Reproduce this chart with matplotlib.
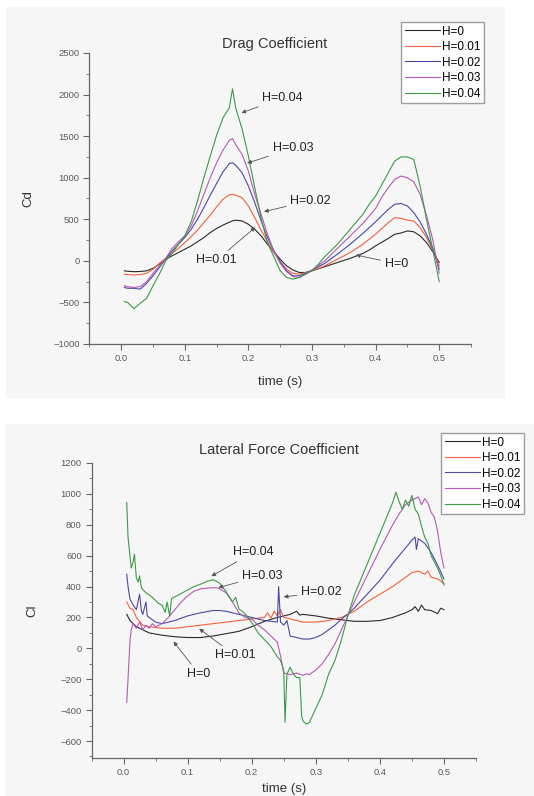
import matplotlib
matplotlib.use("Agg")
import matplotlib.pyplot as plt
from matplotlib.patches import Rectangle
from matplotlib.ticker import MultipleLocator

plt.rcParams['font.family'] = ['Liberation Sans', 'DejaVu Sans']

labels = ['H=0', 'H=0.01', 'H=0.02', 'H=0.03', 'H=0.04']
colors = ['#2a2a2a', '#f2603c', '#4a4aa6', '#b65ab8', '#3c9a46']

# ---- drag coefficient (top) ----
cd_t = [0.005, 0.01, 0.02, 0.03, 0.04, 0.05, 0.06, 0.07, 0.08, 0.09, 0.10, 0.11, 0.12,
        0.13, 0.14, 0.15, 0.16, 0.17, 0.175, 0.18, 0.19, 0.20, 0.21, 0.22, 0.23, 0.24,
        0.25, 0.26, 0.27, 0.28, 0.29, 0.30, 0.31, 0.32, 0.33, 0.34, 0.35, 0.36, 0.37,
        0.38, 0.39, 0.40, 0.41, 0.42, 0.43, 0.44, 0.45, 0.46, 0.47, 0.48, 0.49, 0.50]
cd_h0 = [-120, -125, -130, -128, -120, -90, -40, 20, 60, 100, 140, 180, 230, 280, 340, 390,
         430, 465, 480, 490, 480, 440, 380, 300, 200, 110, 20, -60, -110, -140, -140, -120,
         -95, -70, -45, -20, 5, 30, 60, 90, 130, 180, 225, 270, 320, 335, 360, 350, 300,
         220, 110, -20]
cd_h1 = [-160, -165, -170, -165, -150, -100, -30, 30, 90, 150, 220, 290, 370, 460, 550, 650,
         740, 795, 800, 790, 760, 660, 520, 370, 230, 100, -10, -100, -150, -160, -140, -120,
         -90, -60, -20, 20, 60, 100, 150, 200, 260, 320, 390, 460, 520, 510, 490, 480, 400,
         280, 130, -60]
cd_h2 = [-320, -330, -330, -340, -270, -180, -80, 20, 120, 200, 280, 380, 500, 640, 790, 930,
         1070, 1170, 1180, 1150, 1060, 900, 700, 480, 280, 120, -10, -120, -180, -180, -150,
         -110, -70, -30, 25, 80, 140, 200, 265, 330, 400, 470, 545, 620, 680, 690, 660, 580,
         470, 320, 150, -100]
cd_h3 = [-300, -310, -320, -310, -250, -150, -60, 30, 150, 230, 300, 420, 600, 800, 1000, 1180,
         1330, 1450, 1470, 1400, 1280, 1080, 800, 560, 320, 120, -30, -130, -190, -200, -160,
         -110, -55, 0, 75, 150, 225, 300, 375, 450, 540, 630, 770, 880, 980, 1020, 1000, 950,
         800, 550, 250, -150]
cd_h4 = [-490, -500, -575, -510, -450, -300, -160, 0, 90, 200, 300, 470, 720, 1000, 1260, 1510,
         1720, 1840, 2070, 1840, 1590, 1260, 880, 510, 220, 50, -120, -200, -220, -200, -160,
         -120, -40, 50, 125, 200, 290, 380, 470, 560, 680, 780, 920, 1060, 1200, 1250, 1250,
         1220, 900, 500, 130, -250]

# ---- lateral force coefficient (bottom) ----
cl_h0_t = [0.005, 0.010, 0.020, 0.030, 0.040, 0.060, 0.080, 0.100, 0.120, 0.140, 0.160, 0.180,
           0.200, 0.220, 0.240, 0.260, 0.270, 0.275, 0.280, 0.300, 0.320, 0.340, 0.350, 0.360,
           0.380, 0.400, 0.420, 0.440, 0.450, 0.455, 0.460, 0.465, 0.470, 0.480, 0.490, 0.495,
           0.500]
cl_h0 = [220, 180, 140, 120, 100, 85, 75, 70, 70, 80, 95, 110, 140, 175, 200, 220, 240, 215,
         220, 210, 195, 185, 180, 175, 175, 180, 200, 230, 250, 270, 240, 280, 250, 245, 225,
         260, 250]
cl_h1_t = [0.005, 0.010, 0.015, 0.020, 0.030, 0.040, 0.050, 0.060, 0.080, 0.100, 0.120, 0.140,
           0.160, 0.180, 0.200, 0.220, 0.225, 0.230, 0.235, 0.240, 0.245, 0.250, 0.260, 0.280,
           0.300, 0.320, 0.340, 0.360, 0.380, 0.400, 0.420, 0.440, 0.450, 0.460, 0.470, 0.475,
           0.480, 0.490, 0.500]
cl_h1 = [300, 260, 250, 200, 150, 140, 135, 130, 130, 140, 150, 160, 170, 180, 190, 200, 230,
         195, 240, 210, 250, 200, 190, 170, 170, 180, 200, 240, 300, 350, 400, 460, 490, 500,
         480, 500, 460, 450, 420]
cl_h2_t = [0.005, 0.007, 0.010, 0.015, 0.020, 0.025, 0.028, 0.030, 0.035, 0.037, 0.040, 0.050,
           0.060, 0.070, 0.080, 0.090, 0.100, 0.120, 0.140, 0.150, 0.160, 0.180, 0.200, 0.220,
           0.240, 0.242, 0.245, 0.250, 0.255, 0.260, 0.270, 0.280, 0.290, 0.300, 0.310, 0.320,
           0.330, 0.340, 0.350, 0.360, 0.380, 0.400, 0.420, 0.440, 0.450, 0.455, 0.457, 0.460,
           0.470, 0.480, 0.490, 0.500]
cl_h2 = [480, 400, 320, 280, 250, 350, 240, 220, 300, 210, 200, 170, 160, 170, 180, 195, 210,
         230, 245, 245, 240, 220, 200, 180, 170, 400, 170, 150, 180, 80, 70, 60, 60, 70, 90, 120,
         150, 190, 220, 260, 350, 440, 550, 650, 700, 720, 640, 710, 680, 620, 540, 450]
cl_h3_t = [0.005, 0.007, 0.010, 0.012, 0.015, 0.020, 0.025, 0.030, 0.035, 0.040, 0.045, 0.050,
           0.060, 0.070, 0.080, 0.090, 0.100, 0.110, 0.120, 0.130, 0.145, 0.150, 0.160, 0.170,
           0.180, 0.190, 0.200, 0.210, 0.220, 0.230, 0.240, 0.245, 0.250, 0.260, 0.270, 0.280,
           0.285, 0.290, 0.300, 0.310, 0.320, 0.330, 0.340, 0.350, 0.360, 0.380, 0.400, 0.420,
           0.430, 0.440, 0.450, 0.460, 0.465, 0.470, 0.475, 0.480, 0.485, 0.490, 0.495, 0.500]
cl_h3 = [-350, -200, 50, 120, 160, 130, 170, 120, 150, 130, 160, 140, 160, 200, 250, 300, 340,
         370, 385, 390, 393, 385, 360, 300, 230, 200, 190, 150, 120, 80, 40, -50, -160, -170,
         -160, -175, -165, -170, -140, -100, -40, 30, 120, 210, 300, 470, 640, 800, 870, 930,
         960, 980, 930, 970, 940, 880, 850, 760, 620, 520]
cl_h4_t = [0.005, 0.007, 0.010, 0.012, 0.015, 0.017, 0.020, 0.023, 0.025, 0.028, 0.030, 0.035,
           0.040, 0.045, 0.050, 0.055, 0.060, 0.065, 0.068, 0.070, 0.072, 0.075, 0.080, 0.090,
           0.100, 0.110, 0.120, 0.130, 0.140, 0.150, 0.160, 0.170, 0.175, 0.180, 0.185, 0.190,
           0.200, 0.210, 0.220, 0.230, 0.240, 0.245, 0.250, 0.252, 0.255, 0.260, 0.265, 0.270,
           0.275, 0.278, 0.280, 0.285, 0.290, 0.300, 0.310, 0.320, 0.330, 0.340, 0.350, 0.360,
           0.380, 0.400, 0.420, 0.425, 0.430, 0.435, 0.440, 0.445, 0.450, 0.455, 0.460, 0.465,
           0.470, 0.475, 0.480, 0.485, 0.490, 0.495, 0.500]
cl_h4 = [944, 720, 600, 520, 560, 610, 455, 430, 470, 390, 380, 360, 345, 330, 310, 290, 280,
         233, 300, 255, 210, 322, 333, 355, 378, 400, 415, 433, 444, 422, 367, 300, 330, 255,
         240, 222, 167, 100, 56, 11, -55, -78, -144, -478, -167, -122, -167, -189, -189, -440,
         -470, -490, -480, -390, -300, -167, -78, 55, 211, 344, 544, 744, 944, 1011, 950, 900,
         960, 920, 990, 900, 870, 790, 720, 680, 600, 560, 520, 470, 410]

# annotation text positions and arrow targets
cd_notes = [('H=0.04', 0.222, 1958, 0.189, 1780),
            ('H=0.03', 0.238, 1354, 0.198, 1175),
            ('H=0.02', 0.266, 725, 0.2246, 592),
            ('H=0.01', 0.118, 8, 0.211, 404),
            ('H=0', 0.414, -33, 0.369, 71)]
cl_notes = [('H=0.04', 0.171, 622, 0.137, 467),
            ('H=0.03', 0.185, 471, 0.148, 393),
            ('H=0.02', 0.277, 362, 0.250, 333),
            ('H=0.01', 0.142, -44, 0.118, 127),
            ('H=0', 0.0995, -167, 0.078, 44)]


def style_axes(ax, ylim, major, minor, ylabel):
    ax.set_facecolor('none')
    ax.set_xlim(-0.05, 0.55)
    ax.set_ylim(*ylim)
    ax.xaxis.set_major_locator(MultipleLocator(0.1))
    ax.xaxis.set_minor_locator(MultipleLocator(0.05))
    ax.yaxis.set_major_locator(MultipleLocator(major))
    ax.yaxis.set_minor_locator(MultipleLocator(minor))
    ax.set_xticks([0.0, 0.1, 0.2, 0.3, 0.4, 0.5])
    ax.set_xticklabels(['0.0', '0.1', '0.2', '0.3', '0.4', '0.5'])
    for s in ['top', 'right']:
        ax.spines[s].set_visible(False)
    for s in ['left', 'bottom']:
        ax.spines[s].set_color('#666666')
        ax.spines[s].set_linewidth(0.9)
    ax.tick_params(which='major', direction='out', length=4, width=0.8, color='#666666',
                   labelsize=6.8, labelcolor='#5a5a5a', pad=3)
    ax.tick_params(which='minor', direction='out', length=2, width=0.6, color='#666666')
    ax.set_xlabel('time (s)', fontsize=9.5, color='#333333')
    ax.set_ylabel(ylabel, fontsize=9.5, color='#333333')


def add_notes(ax, notes):
    for txt, tx, ty, px, py in notes:
        ax.annotate(txt, xy=(px, py), xytext=(tx, ty), fontsize=9, color='#222222',
                    ha='left', va='center',
                    arrowprops=dict(arrowstyle='-|>', color='#555555', lw=0.6,
                                    mutation_scale=6, shrinkA=1, shrinkB=0))


fig = plt.figure(figsize=(5.34, 7.96), dpi=100)
W, H = 534.0, 796.0
fig.patches.append(Rectangle((6 / W, 1 - 398 / H), 499 / W, 391 / H, transform=fig.transFigure,
                             facecolor='#f6f6f6', edgecolor='none', zorder=-5))
fig.patches.append(Rectangle((5 / W, 0), 529 / W, 372 / H, transform=fig.transFigure,
                             facecolor='#f6f6f6', edgecolor='none', zorder=-5))

# top panel
ax1 = fig.add_axes([89.4 / W, 1 - 344 / H, 381.6 / W, 291 / H])
cd_series = [cd_h0, cd_h1, cd_h2, cd_h3, cd_h4]
lines = []
for vals, c, lab in zip(cd_series, colors, labels):
    ln, = ax1.plot(cd_t, vals, color=c, lw=0.8, label=lab)
    lines.append(ln)
style_axes(ax1, (-1000, 2500), 500, 250, 'Cd')
ax1.yaxis.set_label_coords(-0.144, 0.5)
ax1.xaxis.set_label_coords(0.5, -0.11)
add_notes(ax1, cd_notes)
fig.text(275 / W, 1 - 44 / H, 'Drag Coefficient', ha='center', va='center', fontsize=10.5,
         color='#333333')
fig.legend(lines, labels, loc='upper left', bbox_to_anchor=(401 / W, 1 - 22 / H),
           fontsize=8.5, frameon=True, fancybox=False, edgecolor='#888888', handlelength=3.0,
           handletextpad=0.2, labelspacing=0.3, borderpad=0.3, borderaxespad=0)

# bottom panel
ax2 = fig.add_axes([91.5 / W, 1 - 758 / H, 384.5 / W, 295 / H])
cl_series = [(cl_h0_t, cl_h0), (cl_h1_t, cl_h1), (cl_h2_t, cl_h2), (cl_h3_t, cl_h3),
             (cl_h4_t, cl_h4)]
lines2 = []
for (tt, vals), c, lab in zip(cl_series, colors, labels):
    ln, = ax2.plot(tt, vals, color=c, lw=0.8, label=lab)
    lines2.append(ln)
style_axes(ax2, (-710, 1200), 200, 100, 'Cl')
ax2.yaxis.set_label_coords(-0.139, 0.5)
ax2.xaxis.set_label_coords(0.5, -0.085)
add_notes(ax2, cl_notes)
fig.text(279 / W, 1 - 450 / H, 'Lateral Force Coefficient', ha='center', va='center',
         fontsize=10.5, color='#333333')
fig.legend(lines2, labels, loc='upper left', bbox_to_anchor=(441 / W, 1 - 433 / H),
           fontsize=8.5, frameon=True, fancybox=False, edgecolor='#888888', handlelength=3.0,
           handletextpad=0.2, labelspacing=0.3, borderpad=0.3, borderaxespad=0)

fig.savefig('out.png', dpi=100)
